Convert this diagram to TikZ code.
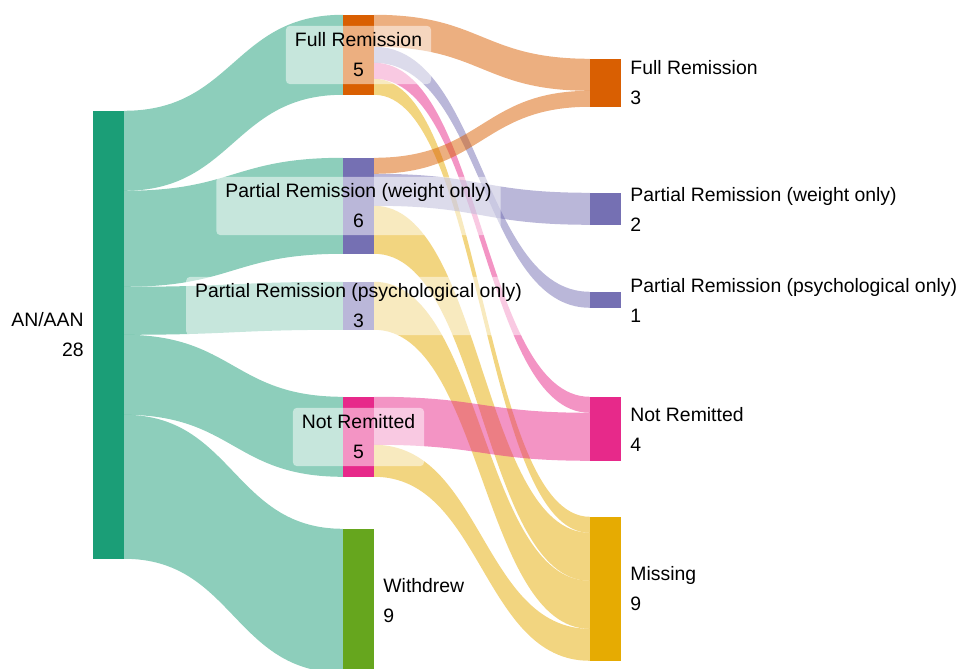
\documentclass[tikz,border=0pt]{standalone}
\usepackage{fontspec}
\setmainfont{Liberation Sans}
\usetikzlibrary{calc,backgrounds}
\definecolor{cAN}{HTML}{1B9E77}
\definecolor{cFR}{HTML}{D95F02}
\definecolor{cPR}{HTML}{7570B3}
\definecolor{cNR}{HTML}{E7298A}
\definecolor{cWD}{HTML}{66A61E}
\definecolor{cMS}{HTML}{E6AB02}
\newcommand\flow[6]{%
  \fill[#6, fill opacity=0.5] let \p1=(#1.north east), \p2=(#3.north west) in
    (\x1,\y1-#2*16pt) .. controls ({0.5*\x1+0.5*\x2},\y1-#2*16pt) and ({0.5*\x1+0.5*\x2},\y2-#4*16pt) .. (\x2,\y2-#4*16pt)
    -- (\x2,\y2-#4*16pt-#5*16pt) .. controls ({0.5*\x1+0.5*\x2},\y2-#4*16pt-#5*16pt) and ({0.5*\x1+0.5*\x2},\y1-#2*16pt-#5*16pt) .. (\x1,\y1-#2*16pt-#5*16pt) -- cycle;}
\tikzset{
  bar/.style={draw=none, inner sep=0pt, minimum width=31pt, minimum height=#1*16pt},
  lab/.style={font=\fontsize{19.4}{30}\selectfont, inner sep=0pt, text=black},
  midlab/.style={lab, align=center, fill=white, fill opacity=0.5, text opacity=1,
     rounded corners=4pt, inner xsep=9pt, inner ysep=7pt},
}
\begin{document}
\begin{tikzpicture}[x=1pt,y=1pt]
\useasboundingbox (0,0) rectangle (964,669);
\clip (0,0) rectangle (964,669);
% nodes
\node[bar=28, fill=cAN] (an)  at (108.5,334) {};
\node[bar=5,  fill=cFR] (fr1) at (358.5,614) {};
\node[bar=6,  fill=cPR] (pw1) at (358.5,463) {};
\node[bar=3,  fill=cPR] (pp1) at (358.5,363) {};
\node[bar=5,  fill=cNR] (nr1) at (358.5,232) {};
\node[bar=9,  fill=cWD] (wd)  at (358.5,68) {};
\node[bar=3,  fill=cFR] (fr2) at (605.5,586) {};
\node[bar=2,  fill=cPR] (pw2) at (605.5,460) {};
\node[bar=1,  fill=cPR] (pp2) at (605.5,369) {};
\node[bar=4,  fill=cNR] (nr2) at (605.5,240) {};
\node[bar=9,  fill=cMS] (ms)  at (605.5,80) {};
% flows
\begin{scope}[on background layer]
\flow{an}{0}{fr1}{0}{5}{cAN}
\flow{an}{5}{pw1}{0}{6}{cAN}
\flow{an}{11}{pp1}{0}{3}{cAN}
\flow{an}{14}{nr1}{0}{5}{cAN}
\flow{an}{19}{wd}{0}{9}{cAN}
\flow{fr1}{0}{fr2}{0}{2}{cFR}
\flow{fr1}{2}{pp2}{0}{1}{cPR}
\flow{fr1}{3}{nr2}{0}{1}{cNR}
\flow{fr1}{4}{ms}{0}{1}{cMS}
\flow{pw1}{0}{fr2}{2}{1}{cFR}
\flow{pw1}{1}{pw2}{0}{2}{cPR}
\flow{pw1}{3}{ms}{1}{3}{cMS}
\flow{pp1}{0}{ms}{4}{3}{cMS}
\flow{nr1}{0}{nr2}{1}{3}{cNR}
\flow{nr1}{3}{ms}{7}{2}{cMS}
\end{scope}
% labels
\node[lab, align=right, anchor=east] (lan) at ($(an.west)+(-9,0)$) {AN/AAN\\28};
\node[midlab] (lfr1) at (fr1.center) {Full Remission\\5};
\node[midlab] (lpw1) at (pw1.center) {Partial Remission (weight only)\\6};
\node[midlab] (lpp1) at (pp1.center) {Partial Remission (psychological only)\\3};
\node[midlab] (lnr1) at (nr1.center) {Not Remitted\\5};
\node[lab, align=left, anchor=west] (lwd) at ($(wd.east)+(9,0)$) {Withdrew\\9};
\node[lab, align=left, anchor=west] (lfr2) at ($(fr2.east)+(9,0)$) {Full Remission\\3};
\node[lab, align=left, anchor=west] (lpw2) at ($(pw2.east)+(9,0)$) {Partial Remission (weight only)\\2};
\node[lab, align=left, anchor=west] (lpp2) at ($(pp2.east)+(9,0)$) {Partial Remission (psychological only)\\1};
\node[lab, align=left, anchor=west] (lnr2) at ($(nr2.east)+(9,0)$) {Not Remitted\\4};
\node[lab, align=left, anchor=west] (lms) at ($(ms.east)+(9,0)$) {Missing\\9};
\end{tikzpicture}
\end{document}
